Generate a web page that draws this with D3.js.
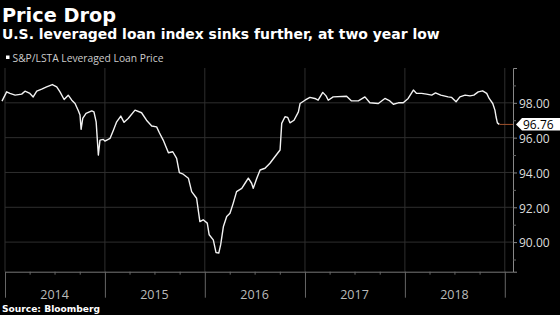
<!DOCTYPE html>
<html>
<head>
<meta charset="utf-8">
<script src="https://cdn.jsdelivr.net/npm/d3@7"></script>
<style>
body{margin:0;background:#000;}
svg{display:block;background:#000;}
text{font-family:"Open Sans","Noto Sans",sans-serif;}
.head{font-family:"DejaVu Sans",Verdana,sans-serif;font-weight:bold;}
</style>
</head>
<body>
<svg id="chart" width="560" height="315"></svg>
<script>
var dates=['2013-12-21','2014-01-07','2014-01-19','2014-02-07','2014-03-03','2014-03-15','2014-04-02','2014-04-14','2014-04-27','2014-05-15',
'2014-06-02','2014-06-23','2014-07-09','2014-07-21','2014-08-05','2014-08-20','2014-09-02','2014-09-14','2014-09-26','2014-10-02',
'2014-10-06','2014-10-12','2014-10-24','2014-11-14','2014-11-22','2014-11-30','2014-12-04','2014-12-08','2014-12-14','2014-12-26',
'2015-01-01','2015-01-20','2015-02-01','2015-02-13','2015-02-28','2015-03-12','2015-03-27','2015-04-21','2015-05-15','2015-06-02',
'2015-06-21','2015-07-09','2015-07-19','2015-08-02','2015-08-21','2015-09-06','2015-09-20','2015-09-30','2015-10-14','2015-11-02',
'2015-11-14','2015-12-02','2015-12-14','2015-12-26','2016-01-10','2016-01-17','2016-02-01','2016-02-11','2016-02-21','2016-02-28',
'2016-03-09','2016-03-21','2016-04-02','2016-04-14','2016-04-26','2016-05-15','2016-05-27','2016-06-08','2016-06-20','2016-06-26',
'2016-07-09','2016-07-21','2016-08-08','2016-08-26','2016-09-13','2016-10-02','2016-10-08','2016-10-20','2016-10-30','2016-11-07',
'2016-11-22','2016-12-08','2016-12-14','2017-01-01','2017-01-19','2017-02-06','2017-02-18','2017-03-07','2017-03-19','2017-03-27',
'2017-04-14','2017-06-02','2017-06-20','2017-07-15','2017-08-08','2017-08-26','2017-09-26','2017-10-20','2017-11-07','2017-11-20',
'2017-12-08','2017-12-26','2018-01-13','2018-02-01','2018-02-13','2018-03-03','2018-03-21','2018-04-09','2018-04-23','2018-05-12',
'2018-06-08','2018-06-21','2018-07-07','2018-07-21','2018-08-09','2018-08-27','2018-09-10','2018-09-26','2018-10-12','2018-10-27',
'2018-11-05','2018-11-18','2018-11-26','2018-11-30','2018-12-05','2018-12-12'];
var prices=[98.10,98.63,98.54,98.44,98.50,98.67,98.54,98.34,98.67,98.79,
98.92,99.05,98.92,98.63,98.19,98.44,98.15,97.96,97.54,97.30,
96.48,97.10,97.39,97.54,97.48,96.91,95.96,95.00,95.86,95.90,
95.80,95.96,96.43,96.91,97.24,96.88,97.10,97.58,97.43,97.00,
96.67,96.62,96.28,95.86,95.13,95.19,94.81,93.99,93.90,93.67,
92.90,92.52,91.18,91.28,91.09,90.42,90.13,89.40,89.37,89.85,
90.90,91.47,91.66,92.24,92.90,93.09,93.38,93.67,93.38,93.09,
93.67,94.14,94.24,94.53,94.90,95.29,96.82,97.20,97.16,96.85,
97.00,97.48,97.96,98.15,98.31,98.25,98.15,98.60,98.40,98.15,
98.34,98.38,98.11,98.11,98.34,98.00,97.96,98.25,98.11,97.92,
98.00,98.00,98.25,98.73,98.54,98.54,98.50,98.44,98.57,98.44,
98.34,98.31,98.06,98.34,98.44,98.40,98.44,98.63,98.69,98.54,
98.25,97.96,97.58,97.20,96.85,96.76];
var years=['2014','2015','2016','2017','2018'];
var yTicks=[90,92,94,96,98];
var lastValue=96.76;

var parse=d3.timeParse('%Y-%m-%d');
var data=dates.map(function(d,i){return {date:parse(d),price:prices[i]};});

var svg=d3.select('#chart');
var pLeft=5,pRight=513,pTop=68,pBottom=271.7;

var x=d3.scaleTime()
  .domain([parse('2014-01-01'),parse('2019-01-31')])
  .range([pLeft,pRight]);
var y=d3.scaleLinear()
  .domain([88.3,100])
  .range([pBottom,pTop]);

function fitText(sel,w){
  var len=sel.node().getComputedTextLength();
  var fs=parseFloat(sel.attr('font-size'));
  sel.attr('font-size',fs*w/len);
}

//titles
var t1=svg.append('text').attr('class','head').attr('x',2).attr('y',21.5)
  .attr('font-size',20).attr('fill','#fff')
  .text('Price Drop');
fitText(t1,114);
var t2=svg.append('text').attr('class','head').attr('x',2).attr('y',38.5)
  .attr('font-size',14).attr('fill','#fff')
  .text('U.S. leveraged loan index sinks further, at two year low');
fitText(t2,438);

//legend
svg.append('rect').attr('x',6).attr('y',55.5).attr('width',3.5).attr('height',3.5).attr('fill','#fff');
var lg=svg.append('text').attr('x',12.5).attr('y',61.5)
  .attr('font-size',10).attr('fill','#ccc')
  .text('S&P/LSTA Leveraged Loan Price');
fitText(lg,151);

//grid
svg.append('g').selectAll('line').data(yTicks).join('line')
  .attr('x1',pLeft).attr('x2',pRight)
  .attr('y1',function(d){return y(d);}).attr('y2',function(d){return y(d);})
  .attr('stroke','#2e2e2e').attr('stroke-width',1);
var yearStarts=years.map(function(d){return parse(d+'-01-01');}).concat([parse('2019-01-01')]);
svg.append('g').selectAll('line').data(yearStarts).join('line')
  .attr('x1',function(d){return x(d);}).attr('x2',function(d){return x(d);})
  .attr('y1',pTop).attr('y2',pBottom)
  .attr('stroke','#2e2e2e').attr('stroke-width',1);

//x axis
var xAxis=svg.append('g').attr('transform','translate(0,'+pBottom+')')
  .call(d3.axisBottom(x).tickValues(yearStarts).tickSize(26).tickSizeOuter(0).tickFormat(''));
xAxis.select('.domain').attr('stroke','#777');
xAxis.selectAll('.tick line').attr('stroke','#666');
var quarters=d3.timeMonth.every(3).range(parse('2014-01-01'),parse('2019-01-01'))
  .filter(function(d){return d.getMonth()!=0;});
var xMinor=svg.append('g').attr('transform','translate(0,'+pBottom+')')
  .call(d3.axisBottom(x).tickValues(quarters).tickSize(3).tickSizeOuter(0).tickFormat(''));
xMinor.select('.domain').remove();
xMinor.selectAll('.tick line').attr('stroke','#666');
svg.append('g').selectAll('text').data(years).join('text')
  .attr('x',function(d){return x(d3.timeMonth.offset(parse(d+'-01-01'),6));})
  .attr('y',298.5)
  .attr('text-anchor','middle').attr('font-size',12.5).attr('fill','#bbb')
  .text(function(d){return d;});

//y axis
var yAxis=svg.append('g').attr('transform','translate('+pRight+',0)')
  .call(d3.axisRight(y).tickValues(yTicks).tickSize(4).tickSizeOuter(4).tickPadding(2).tickFormat(d3.format('.2f')));
yAxis.select('.domain').attr('stroke','#888');
yAxis.selectAll('.tick line').attr('stroke','#888');
yAxis.selectAll('.tick text').attr('fill','#ddd').attr('font-size',12)
  .attr('dy','0.4em')
  .attr('font-family','"Open Sans","Noto Sans",sans-serif');
var yMinor=svg.append('g').attr('transform','translate('+pRight+',0)')
  .call(d3.axisRight(y).tickValues([89,91,93,95,97,99]).tickSize(3).tickSizeOuter(0).tickFormat(''));
yMinor.select('.domain').remove();
yMinor.selectAll('.tick line').attr('stroke','#666');

//line
var line=d3.line().x(function(d){return x(d.date);}).y(function(d){return y(d.price);});
svg.append('path').datum(data)
  .attr('d',line).attr('fill','none')
  .attr('stroke','#f2f2f2').attr('stroke-width',1.4).attr('stroke-linejoin','round');

//last value label
var last=data[data.length-1];
svg.append('line')
  .attr('x1',x(last.date)).attr('x2',pRight)
  .attr('y1',y(lastValue)).attr('y2',y(lastValue))
  .attr('stroke','#a0522d').attr('stroke-width',1);
var ly=y(lastValue);
svg.append('path')
  .attr('d','M'+(pRight+3)+','+ly+'L'+(pRight+9)+','+(ly-6.5)+'H560V'+(ly+6)+'H'+(pRight+9)+'Z')
  .attr('fill','#fff');
svg.append('text').attr('x',pRight+10).attr('y',ly+4.3)
  .attr('font-size',12).attr('fill','#000')
  .text(d3.format('.2f')(lastValue));

//source
var src=svg.append('text').attr('class','head').attr('x',2).attr('y',312)
  .attr('font-size',10).attr('fill','#fff')
  .text('Source:  Bloomberg');
fitText(src,98);
</script>
</body>
</html>
